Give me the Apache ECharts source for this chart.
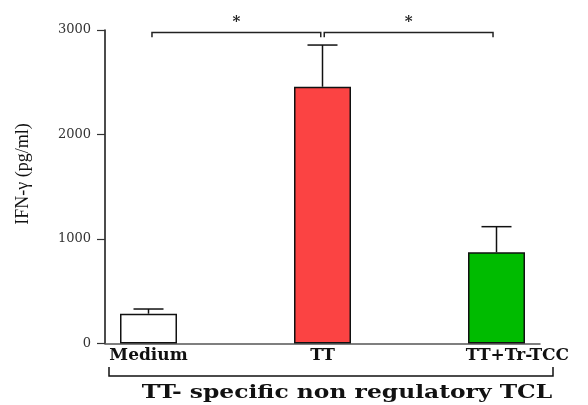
<!DOCTYPE html>
<html><head><meta charset="utf-8">
<script src="https://cdn.jsdelivr.net/npm/echarts@6/dist/echarts.min.js"></script>
<style>html,body{margin:0;padding:0;background:#fff}#c{width:588px;height:405px}</style>
</head><body><div id="c"></div>
<script>
const categories = ['Medium', 'TT', 'TT+Tr-TCC'];
const means = [285, 2457, 873];
const errUpper = [330, 2856, 1118];
const barColors = ['#ffffff', '#fb4343', '#00bb00'];
const yTicks = [0, 1000, 2000, 3000];
const brackets = [[0.02, 0.99, 2975, 2930, '*'], [1.01, 1.98, 2975, 2930, '*']];

const chart = echarts.init(document.getElementById('c'));
const serif = 'Liberation Serif';
const wserif = 'DejaVu Serif';
chart.setOption({
  animation: false,
  grid: { left: 105, right: 48, top: 30, bottom: 61.5 },
  xAxis: {
    type: 'value', min: -0.25, max: 2.25,
    splitLine: { show: false },
    axisLine: { show: true, onZero: false, lineStyle: { color: '#555', width: 1.5 } },
    axisTick: { show: false },
    axisLabel: {
      customValues: [0, 1, 2], margin: 4,
      fontFamily: wserif, fontWeight: 'bold', fontSize: 17, color: '#111',
      formatter: v => v === 2 ? '{s|' + categories[2] + '}' : categories[Math.round(v)],
      rich: { s: { fontFamily: wserif, fontWeight: 'bold', fontSize: 17, color: '#111', padding: [0, 0, 0, 42] } }
    }
  },
  yAxis: {
    type: 'value', min: 0, max: 3000, interval: 1000,
    splitLine: { show: false },
    axisLine: { show: true, onZero: false, lineStyle: { color: '#111', width: 1.5 } },
    axisTick: { show: true, length: 8, lineStyle: { color: '#333', width: 1.2 } },
    axisLabel: { margin: 14, fontFamily: wserif, fontSize: 13, color: '#333',
      formatter: v => yTicks.includes(v) ? String(v) : '' }
  },
  series: [
    {
      type: 'bar', barWidth: 57,
      data: means.map((m, i) => ({ value: [i, m], itemStyle: { color: barColors[i] } })),
      itemStyle: { borderColor: '#111', borderWidth: 1.5 }
    },
    {
      type: 'custom', clip: false,
      data: means.map((m, i) => [i, m, errUpper[i]]),
      renderItem: (params, api) => {
        const x = api.value(0);
        const top = api.coord([x, api.value(1)]);
        const up = api.coord([x, api.value(2)]);
        return { type: 'group', children: [
          { type: 'line', shape: { x1: top[0], y1: top[1], x2: up[0], y2: up[1] }, style: { stroke: '#111', lineWidth: 1.5 } },
          { type: 'line', shape: { x1: up[0] - 15, y1: up[1], x2: up[0] + 15, y2: up[1] }, style: { stroke: '#111', lineWidth: 1.5 } }
        ]};
      },
      z: 1
    },
    {
      type: 'custom', clip: false,
      data: brackets,
      renderItem: (params, api) => {
        const a = api.coord([api.value(0), api.value(2)]);
        const b = api.coord([api.value(1), api.value(2)]);
        const t = api.coord([api.value(0), api.value(3)]);
        const drop = t[1] - a[1];
        return { type: 'group', children: [
          { type: 'polyline', shape: { points: [[a[0], a[1] + drop], [a[0], a[1]], [b[0], b[1]], [b[0], b[1] + drop]] },
            style: { stroke: '#222', lineWidth: 1.5, fill: null } },
          { type: 'text', x: (a[0] + b[0]) / 2, y: a[1] - 3,
            style: { text: brackets[params.dataIndex][4], fontFamily: wserif, fontSize: 15, fontWeight: 'bold', fill: '#222', align: 'center', verticalAlign: 'bottom' } }
        ]};
      }
    }
  ],
  graphic: [
    { type: 'text', x: 23, y: 174, rotation: Math.PI / 2,
      style: { text: 'IFN-γ (pg/ml)', fontFamily: serif, fontSize: 18, fill: '#111', align: 'center', verticalAlign: 'middle' } },
    { type: 'polyline', shape: { points: [[109, 367], [109, 376], [553, 376], [553, 367]] },
      style: { stroke: '#111', lineWidth: 1.5, fill: null } },
    { type: 'text', x: 347, y: 393, scaleX: 1.3,
      style: { text: 'TT- specific non regulatory TCL', fontFamily: wserif, fontSize: 18, fontWeight: 'bold', fill: '#111', align: 'center', verticalAlign: 'middle' } }
  ]
});
</script></body></html>
